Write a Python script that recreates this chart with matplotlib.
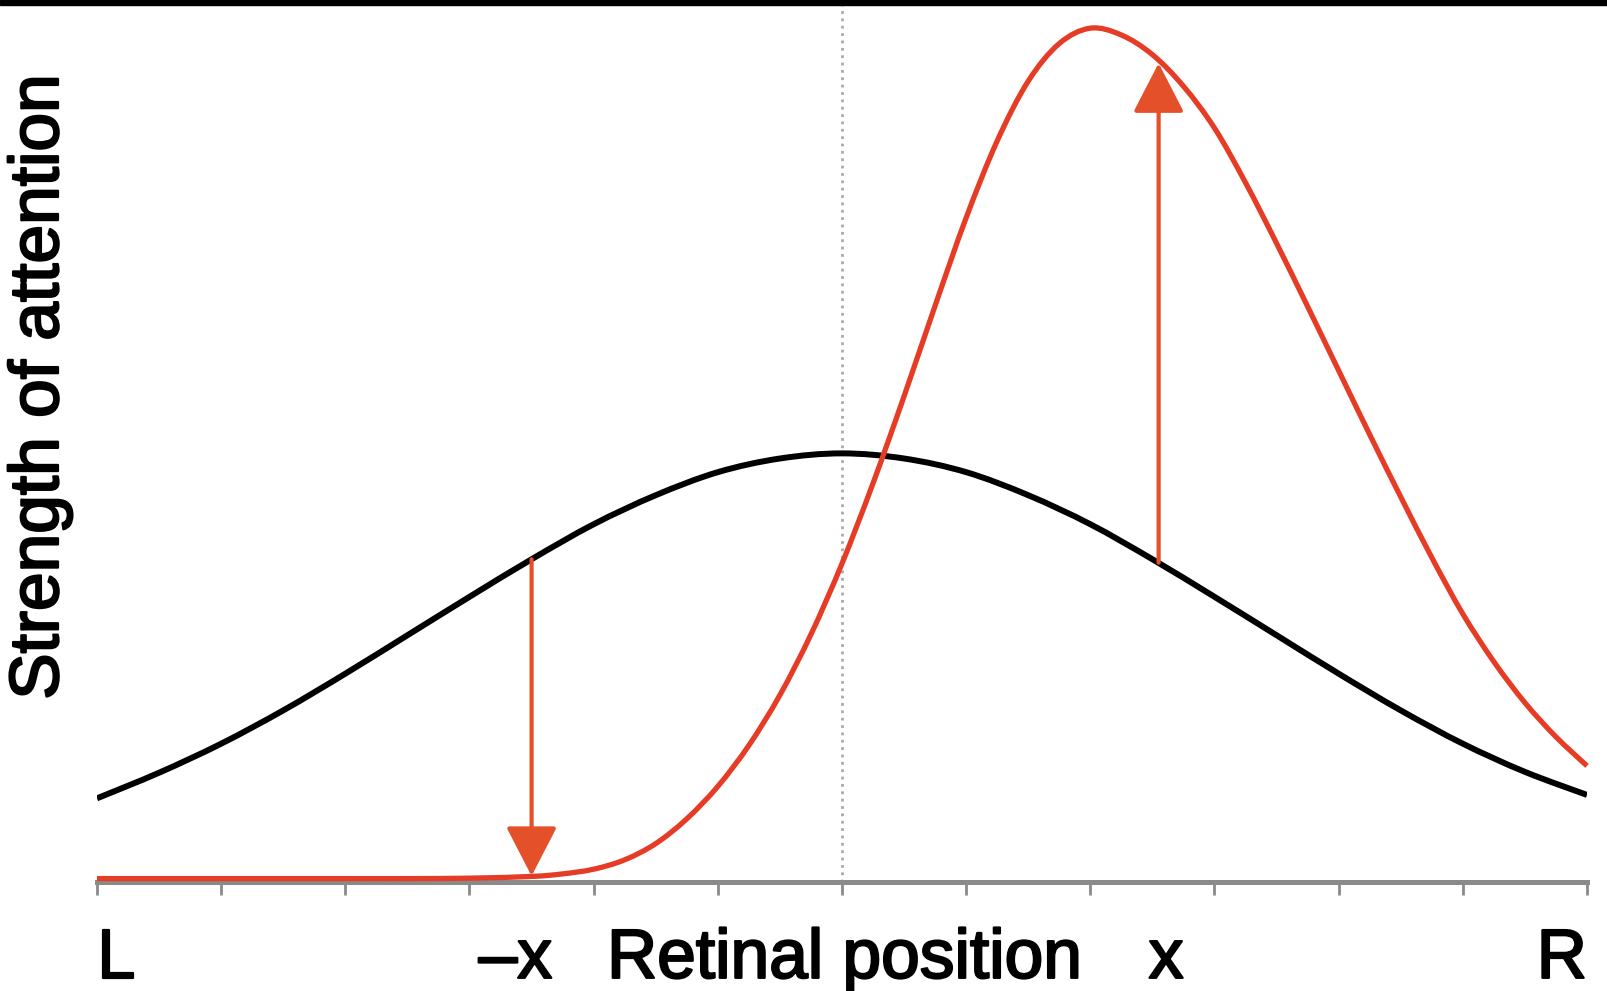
import numpy as np
import matplotlib
matplotlib.use('Agg')
import matplotlib.pyplot as plt
import matplotlib.patheffects as pe
from matplotlib.patches import Rectangle, PathPatch
from matplotlib.path import Path

plt.rcParams['font.family'] = ['Liberation Sans', 'DejaVu Sans']

### Data (x in tick units, L=-6 ... R=6)
black_x = [-6, -5.5, -5, -4.5, -4, -3.5, -3, -2.5, -2, -1.5, -1, -0.5, 0,
           0.5, 1, 1.5, 2, 2.5, 3, 3.5, 4, 4.5, 5, 5.5, 6]
black_y = [9.8, 12.8, 16.2, 20.1, 24.4, 28.9, 33.4, 37.8, 41.9, 45.3, 48.0, 49.6, 50.2,
           49.6, 48.0, 45.3, 41.9, 37.8, 33.4, 28.9, 24.4, 20.1, 16.2, 12.9, 10.2]

red_x = [-6, -5.5, -5, -4.5, -4, -3.5, -3, -2.5, -2.25, -2, -1.75, -1.5, -1.25, -1, -0.75, -0.5, -0.25,
         0, 0.25, 0.5, 0.75, 1, 1.25, 1.5, 1.75, 2, 2.25, 2.5, 2.75, 3, 3.25, 3.5,
         3.75, 4, 4.25, 4.5, 4.75, 5, 5.25, 5.5, 5.75, 6]
red_y = [0.4, 0.4, 0.4, 0.4, 0.4, 0.4, 0.45, 0.65, 0.95, 1.5, 2.6, 4.5, 7.4, 11.2, 16.0, 21.9, 29.0,
         37.3, 46.7, 56.9, 67.5, 77.8, 86.8, 93.8, 98.2, 100.0, 99.2, 96.9, 93.2, 88.3, 81.9, 74.8,
         67.4, 59.9, 52.4, 45.1, 38.0, 31.4, 25.8, 21.0, 17.0, 13.6]

# arrows: from black curve to red curve
arrow_x = [-2.5, 2.55]
arrow_from = [37.8, 37.4]
arrow_to = [0.7, 95.9]

tick_pos = list(range(-6, 7))
label_pos = [-6, -2.63, 2.61, 6]
label_txt = ['L', '\u2013x', 'x', 'R']
label_ha = ['left', 'center', 'center', 'right']

red = '#E63C26'
arrow_col = '#E4502A'
grey = '#8a8a8a'


def smooth_path(x, y):
    # draw the read points as one smooth bezier path (Catmull-Rom style)
    p = np.column_stack([x, y]).astype(float)
    p = np.vstack([p[0], p, p[-1]])
    verts = [p[1]]
    codes = [Path.MOVETO]
    for i in range(1, len(p) - 2):
        c1 = p[i] + (p[i + 1] - p[i - 1]) / 6
        c2 = p[i + 1] - (p[i + 2] - p[i]) / 6
        verts += [c1, c2, p[i + 1]]
        codes += [Path.CURVE4] * 3
    return Path(verts, codes)


### Figure
fig = plt.figure(figsize=(16.08, 9.91), dpi=100)
ax = fig.add_axes([97/1608, 109/991, 1490/1608, 882/991])
ax.set_xlim(-6, 6)
ax.set_ylim(0, 103.3)

ax.axvline(0, color='#aaaaaa', linestyle=':', lw=2, zorder=1)
ax.add_patch(PathPatch(smooth_path(black_x, black_y), fill=False, edgecolor='black',
                       lw=4.3, zorder=3, capstyle='butt'))
ax.add_patch(PathPatch(smooth_path(red_x, red_y), fill=False, edgecolor=red,
                       lw=3.8, zorder=4, clip_on=False, capstyle='butt'))

for x0, y0, y1 in zip(arrow_x, arrow_from, arrow_to):
    ax.annotate('', xy=(x0, y1), xytext=(x0, y0),
                arrowprops=dict(arrowstyle='-|>,head_length=0.62,head_width=0.32',
                                mutation_scale=50, color=arrow_col, lw=3,
                                shrinkA=0, shrinkB=0), zorder=5)

### Axis styling
for s in ['left', 'top', 'right']:
    ax.spines[s].set_visible(False)
ax.spines['bottom'].set_color(grey)
ax.spines['bottom'].set_linewidth(3.6)
ax.set_yticks([])
ax.set_xticks(tick_pos)
ax.set_xticklabels([])
ax.tick_params(axis='x', direction='out', length=9, width=2, color=grey)

heavy = [pe.withStroke(linewidth=1.6, foreground='black')]
for x0, t, ha in zip(label_pos, label_txt, label_ha):
    ax.annotate(t, xy=(x0, 0), xycoords=('data', 'axes fraction'),
                xytext=(0, -69), textcoords='offset points',
                ha=ha, va='baseline', fontsize=50, color='black', path_effects=heavy)
ax.annotate('Retinal position', xy=(0.02, 0), xycoords=('data', 'axes fraction'),
            xytext=(0, -69), textcoords='offset points',
            ha='center', va='baseline', fontsize=50, color='black', path_effects=heavy)

fig.text(40/1608, 1 - 387/991, 'Strength of attention', rotation=90,
         ha='center', va='center', fontsize=50, color='black', path_effects=heavy)

# black bar along the top edge
fig.add_artist(Rectangle((0, 1 - 5/991), 1, 5/991, transform=fig.transFigure,
                         color='black', zorder=10))

plt.savefig('out.png', dpi=100)
